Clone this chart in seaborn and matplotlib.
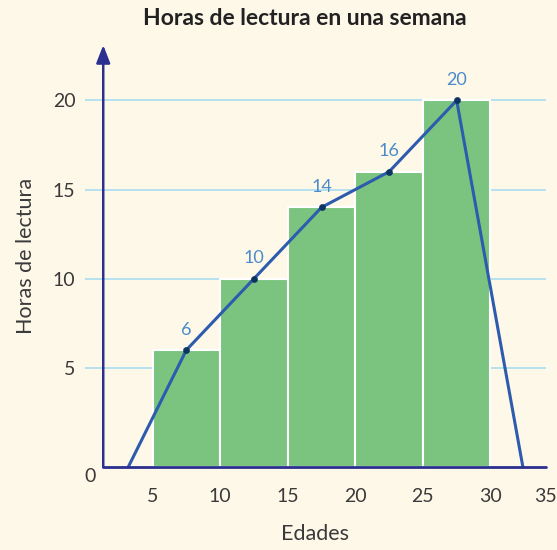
import matplotlib
matplotlib.use("Agg")
import matplotlib.pyplot as plt
import seaborn as sns
import pandas as pd

# Data
bin_mids = [7.5, 12.5, 17.5, 22.5, 27.5]
hours = [6, 10, 14, 16, 20]
poly_x = [3.2, 7.5, 12.5, 17.5, 22.5, 27.5, 32.4]
poly_y = [0, 6, 10, 14, 16, 20, 0]
x_ticks = [5, 10, 15, 20, 25, 30]
y_ticks = [5, 10, 15, 20]

title = "Horas de lectura en una semana"
xlabel = "Edades"
ylabel = "Horas de lectura"

BG = "#FEF8E9"
BAR = "#7BC47F"
LINE = "#2D5BAE"
DOT = "#0D3460"
LABEL = "#4A8BC9"
AXIS = "#2B3090"
GRID = "#A9DDF0"
TXT = "#3A3A3A"

sns.set_theme(style="white")
plt.rcParams["font.family"] = ["Lato", "DejaVu Sans"]

fig = plt.figure(figsize=(5.57, 5.5), dpi=100, facecolor=BG)
ax = fig.add_axes([0.1526, 0.1509, 0.8274, 0.7671])
ax.set_facecolor(BG)

ymin, ymax = -0.56, 23.1
xmin, xmax = 0.0, 34.1
yaxis_x = 1.35

# gridlines
for t in y_ticks:
    ax.axhline(t, color=GRID, lw=1.2, zorder=0)

df = pd.DataFrame({"mid": bin_mids, "hours": hours})
sns.barplot(data=df, x="mid", y="hours", native_scale=True, width=1,
            color=BAR, saturation=1, edgecolor="white", linewidth=1.5,
            ax=ax, zorder=2)
# bars rest on the drawn baseline
for p in ax.patches:
    h = p.get_height()
    p.set_y(ymin)
    p.set_height(h - ymin)

# frequency polygon: zero ends sit on the drawn baseline
poly_plot_y = [ymin if v == 0 else v for v in poly_y]
sns.lineplot(x=poly_x, y=poly_plot_y, sort=False, color=LINE, lw=2.2, ax=ax, zorder=3)
sns.scatterplot(x=bin_mids, y=hours, color=DOT, s=20, edgecolor=DOT, ax=ax, zorder=4)
for xm, v in zip(bin_mids, hours):
    ax.annotate(str(v), (xm, v), xytext=(0, 9), textcoords="offset points",
                ha="center", va="bottom", color=LABEL, fontsize=13)

ax.set_xlim(xmin, xmax)
ax.set_ylim(ymin, ymax)
for s in ax.spines.values():
    s.set_visible(False)

# axes lines
ax.plot([yaxis_x, xmax], [ymin, ymin], color=AXIS, lw=2, zorder=5, clip_on=False)
ax.annotate("", xy=(yaxis_x, ymax), xytext=(yaxis_x, ymin),
            arrowprops=dict(arrowstyle="-|>,head_length=0.9,head_width=0.35",
                            color=AXIS, lw=1.8, shrinkA=0, shrinkB=0),
            zorder=5, annotation_clip=False)

ax.set_xticks(x_ticks)
ax.set_xticklabels([str(t) for t in x_ticks])
ax.set_yticks(y_ticks)
ax.set_yticklabels([str(t) for t in y_ticks])
ax.tick_params(axis="x", length=0, pad=15, labelsize=14, labelcolor=TXT)
ax.tick_params(axis="y", length=0, pad=7, labelsize=14, labelcolor=TXT)
ax.annotate("35", (xmax, ymin), xytext=(0, -15), textcoords="offset points",
            ha="center", va="top", fontsize=14, color=TXT, annotation_clip=False)
ax.annotate("0", (0.35, ymin), xytext=(0, -1), textcoords="offset points",
            ha="center", va="top", fontsize=14, color=TXT, annotation_clip=False)

ax.set_xlabel(xlabel, fontsize=15.5, color=TXT, labelpad=14)
ax.set_ylabel(ylabel, fontsize=15.5, color=TXT, labelpad=12)
fig.suptitle(title, x=0.548, y=0.985, fontsize=16.5, fontweight="bold", color="#222222")

fig.savefig("out.png", dpi=100, facecolor=BG)
